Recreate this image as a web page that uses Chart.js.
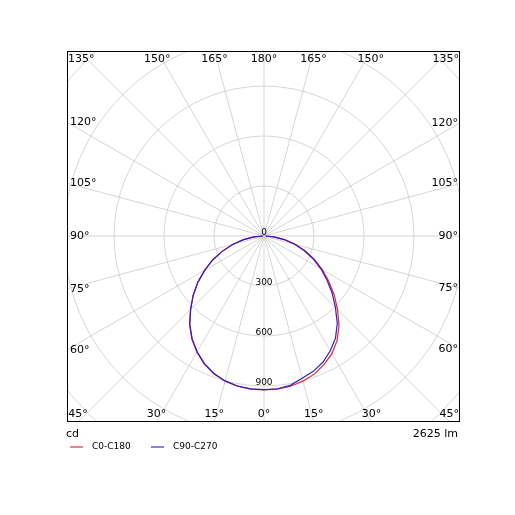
<!DOCTYPE html>
<html>
<head>
<meta charset="utf-8">
<script src="https://cdn.jsdelivr.net/npm/chart.js@4/dist/chart.umd.min.js"></script>
<style>
  html, body { margin: 0; padding: 0; background: #fff; }
  #wrap { width: 515px; height: 515px; }
</style>
</head>
<body>
<div id="wrap"><canvas id="c" width="515" height="515"></canvas></div>
<script>
// gamma angles, 0 = straight down, negative = left half
const gammas = [-90, -85, -80, -75, -70, -65, -60, -55, -50, -45, -40, -35, -30, -25, -20, -15, -10, -5,
  0, 5, 10, 15, 20, 25, 30, 35, 40, 45, 50, 55, 60, 65, 70, 75, 80, 85, 90];
const c0c180 = [8, 60, 125, 195, 265, 340, 410, 485, 555, 624, 695, 755, 805, 848, 880, 902, 915, 922,
  924, 922, 915, 902, 882, 852, 815, 765, 700, 624, 550, 474, 404, 334, 264, 194, 126, 60, 10];
const c90c270 = [8, 60, 125, 195, 265, 340, 410, 485, 555, 622, 692, 752, 802, 845, 878, 900, 914, 921,
  922, 920, 910, 884, 864, 836, 795, 748, 684, 606, 534, 462, 394, 326, 258, 190, 123, 58, 10];
const seriesNames = ["C0-C180", "C90-C270"];
const seriesColors = ["rgb(228,32,48)", "rgb(48,32,200)"];
const ringValues = [300, 600, 900, 1200, 1500];
const ringLabels = ["0", "300", "600", "900"];
const spokeStep = 15;
const unitLabel = "cd";
const fluxLabel = "2625 lm";

function toXY(values) {
  return gammas.map((g, i) => {
    const a = g * Math.PI / 180;
    return { x: values[i] * Math.sin(a), y: -values[i] * Math.cos(a) };
  });
}

const FONT = "DejaVu Sans";

const polarGrid = {
  id: "polarGrid",
  beforeDatasetsDraw(chart) {
    const { ctx, chartArea: ca, scales: { x, y } } = chart;
    const cx = x.getPixelForValue(0), cy = y.getPixelForValue(0);
    const pxPer = (x.getPixelForValue(1000) - cx) / 1000;
    ctx.save();
    ctx.beginPath();
    ctx.rect(ca.left, ca.top, ca.right - ca.left, ca.bottom - ca.top);
    ctx.clip();
    ctx.strokeStyle = "#cccccc";
    ctx.lineWidth = 0.8;
    ringValues.forEach(v => {
      ctx.beginPath();
      ctx.arc(cx, cy, v * pxPer, 0, Math.PI * 2);
      ctx.stroke();
    });
    for (let a = 0; a < 360; a += spokeStep) {
      const r = a * Math.PI / 180;
      ctx.beginPath();
      ctx.moveTo(cx, cy);
      ctx.lineTo(cx + Math.sin(r) * 1000, cy + Math.cos(r) * 1000);
      ctx.stroke();
    }
    ctx.restore();
  },
  afterDatasetsDraw(chart) {
    const { ctx, chartArea: ca, scales: { x, y } } = chart;
    const cx = x.getPixelForValue(0), cy = y.getPixelForValue(0);
    const pxPer = (x.getPixelForValue(1000) - cx) / 1000;
    ctx.save();
    ctx.strokeStyle = "#000";
    ctx.lineWidth = 1;
    ctx.strokeRect(ca.left + 0.5, ca.top + 0.5, ca.right - ca.left - 1, ca.bottom - ca.top - 1);

    // ring value labels
    ctx.fillStyle = "#000";
    ctx.font = "9px " + FONT;
    ctx.textAlign = "center";
    ctx.textBaseline = "bottom";
    ringLabels.forEach((t, i) => {
      ctx.fillText(t, cx, cy + i * 300 * pxPer + 1);
    });

    // angle labels where the spokes leave the box
    ctx.font = "11px " + FONT;
    for (let a = -180; a < 180; a += spokeStep) {
      const r = a * Math.PI / 180;
      const dx = Math.abs(Math.sin(r)) < 1e-9 ? 0 : Math.sin(r);
      const dy = Math.abs(Math.cos(r)) < 1e-9 ? 0 : Math.cos(r);
      const tx = dx !== 0 ? ((dx > 0 ? ca.right : ca.left) - cx) / dx : Infinity;
      const ty = dy !== 0 ? ((dy > 0 ? ca.bottom : ca.top) - cy) / dy : Infinity;
      const t = Math.min(tx, ty);
      let px = cx + dx * t, py = cy + dy * t;
      const label = Math.abs(a) + "°";
      if (tx < ty) {
        ctx.textAlign = dx > 0 ? "right" : "left";
        ctx.textBaseline = "middle";
        px += dx > 0 ? -2 : 3;
      } else {
        ctx.textAlign = "center";
        ctx.textBaseline = "middle";
        py += dy > 0 ? -8 : 8;
        const w = ctx.measureText(label).width / 2;
        px = Math.max(ca.left + w + 1, Math.min(ca.right - w - 1, px));
      }
      ctx.fillText(label, px, py);
    }

    // footer texts
    ctx.font = "11px " + FONT;
    ctx.textBaseline = "middle";
    ctx.textAlign = "left";
    ctx.fillText(unitLabel, ca.left - 1, ca.bottom + 12);
    ctx.textAlign = "right";
    ctx.fillText(fluxLabel, ca.right - 2, ca.bottom + 12);

    // legend
    ctx.font = "9px " + FONT;
    ctx.textAlign = "left";
    const lx = [70, 151];
    seriesNames.forEach((n, i) => {
      ctx.strokeStyle = seriesColors[i];
      ctx.globalAlpha = 0.75;
      ctx.lineWidth = 1.5;
      ctx.beginPath();
      ctx.moveTo(lx[i], ca.bottom + 25);
      ctx.lineTo(lx[i] + 13, ca.bottom + 25);
      ctx.stroke();
      ctx.globalAlpha = 1;
      ctx.fillText(n, lx[i] + 22, ca.bottom + 25);
    });
    ctx.restore();
  }
};

new Chart(document.getElementById("c"), {
  type: "scatter",
  data: {
    datasets: [
      { label: seriesNames[0], data: toXY(c0c180), borderColor: seriesColors[0], order: 2 },
      { label: seriesNames[1], data: toXY(c90c270), borderColor: seriesColors[1], order: 1 }
    ].map(d => Object.assign(d, { showLine: true, pointRadius: 0, borderWidth: 1.2, tension: 0, fill: false }))
  },
  options: {
    responsive: false,
    animation: false,
    layout: { padding: { left: 67, right: 55, top: 51, bottom: 93 } },
    plugins: { legend: { display: false }, tooltip: { enabled: false } },
    scales: {
      x: { type: "linear", min: -1182, max: 1176, display: false },
      y: { type: "linear", min: -1116, max: 1110, display: false }
    }
  },
  plugins: [polarGrid]
});
</script>
</body>
</html>
